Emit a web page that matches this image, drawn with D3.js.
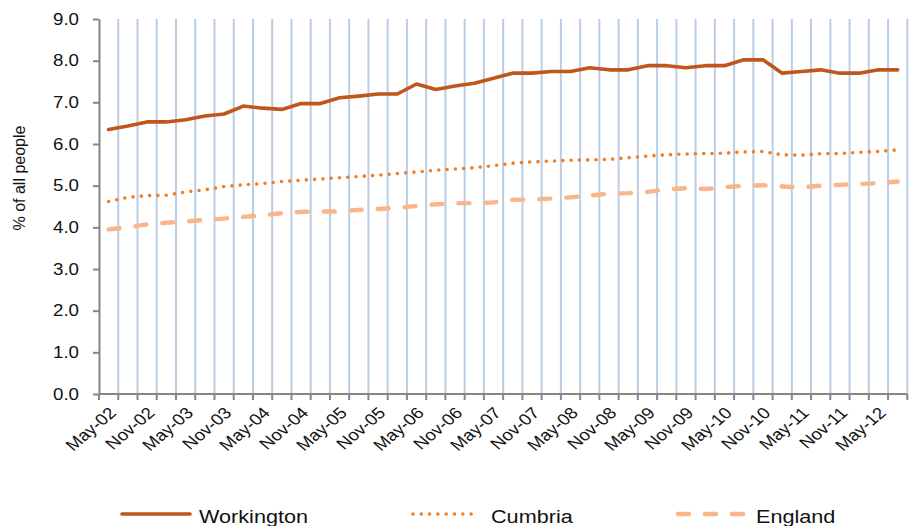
<!DOCTYPE html>
<html>
<head>
<meta charset="utf-8">
<script src="https://cdn.jsdelivr.net/npm/d3@7"></script>
<style>
  body { margin: 0; background: #fff; }
  text { font-family: "Liberation Sans", Arial, sans-serif; fill: #111; }
</style>
</head>
<body>
<div id="chart"></div>
<script>
(function() {
  var quarters = ["May-02","Aug-02","Nov-02","Feb-03","May-03","Aug-03","Nov-03","Feb-04",
    "May-04","Aug-04","Nov-04","Feb-05","May-05","Aug-05","Nov-05","Feb-06",
    "May-06","Aug-06","Nov-06","Feb-07","May-07","Aug-07","Nov-07","Feb-08",
    "May-08","Aug-08","Nov-08","Feb-09","May-09","Aug-09","Nov-09","Feb-10",
    "May-10","Aug-10","Nov-10","Feb-11","May-11","Aug-11","Nov-11","Feb-12",
    "May-12","Aug-12"];

  var workington = [6.35,6.43,6.53,6.53,6.58,6.67,6.72,6.91,6.86,6.83,6.97,6.97,
    7.11,7.15,7.20,7.20,7.44,7.31,7.39,7.46,7.58,7.70,7.70,7.74,7.74,7.83,7.78,7.78,
    7.88,7.88,7.83,7.88,7.88,8.02,8.02,7.70,7.74,7.78,7.70,7.70,7.78,7.78];

  var cumbria = [4.62,4.72,4.76,4.77,4.85,4.90,4.98,5.02,5.05,5.10,5.13,5.16,
    5.19,5.22,5.25,5.29,5.33,5.37,5.40,5.43,5.48,5.54,5.57,5.59,5.61,5.62,5.63,5.67,
    5.71,5.74,5.76,5.77,5.78,5.81,5.82,5.74,5.73,5.77,5.77,5.80,5.82,5.86];

  var england = [3.95,4.00,4.07,4.11,4.14,4.18,4.21,4.25,4.29,4.34,4.37,4.38,
    4.38,4.42,4.44,4.47,4.51,4.55,4.58,4.58,4.60,4.66,4.67,4.69,4.72,4.76,4.81,4.82,
    4.85,4.91,4.94,4.92,4.96,5.00,5.01,4.98,4.96,5.00,5.02,5.04,5.06,5.10];

  var yTicks = [0,1,2,3,4,5,6,7,8,9];

  var width = 910, height = 526;
  var left = 99, right = 907.3, top = 19, bottom = 394;
  var sx = 1.17; // the original picture is stretched a bit sideways
  var gray = "#868686";

  var series = [
    {name: "Workington", values: workington, color: "#c0561d", width: 3.6, dash: null, cap: "round"},
    {name: "Cumbria", values: cumbria, color: "#f47d20", width: 3.6, dash: "0,8.3", cap: "round"},
    {name: "England", values: england, color: "#fab58a", width: 4.4, dash: "11,16", cap: "round"}
  ];

  var svg = d3.select("#chart").append("svg")
    .attr("width", width).attr("height", height);

  var x = d3.scaleBand().domain(quarters).range([left, right]).padding(0);
  var y = d3.scaleLinear().domain([0, 9]).range([bottom, top]);

  // vertical gridlines at category boundaries
  var bounds = quarters.map(function(q) { return x(q); }).concat([right]);
  svg.append("g").selectAll("line").data(bounds.slice(1)).enter().append("line")
    .attr("x1", function(d) { return d; }).attr("x2", function(d) { return d; })
    .attr("y1", top).attr("y2", bottom)
    .attr("stroke", "#b9cde5").attr("stroke-width", 2);

  // y axis
  var yAxis = svg.append("g").attr("transform", "translate(" + left + ",0)")
    .call(d3.axisLeft(y).tickValues(yTicks).tickSize(6).tickSizeOuter(0)
      .tickFormat(d3.format(".1f")));
  yAxis.select(".domain").attr("stroke", gray).attr("stroke-width", 2);
  yAxis.selectAll(".tick line").attr("stroke", gray).attr("stroke-width", 2);
  yAxis.selectAll(".tick text")
    .attr("x", -20 / sx).attr("transform", "scale(" + sx + ",1)")
    .style("font-size", "16px").attr("fill", "#111");

  // x axis: ticks at boundaries
  svg.append("line").attr("x1", left).attr("x2", right).attr("y1", bottom).attr("y2", bottom)
    .attr("stroke", gray).attr("stroke-width", 2);
  svg.append("g").selectAll("line").data(bounds).enter().append("line")
    .attr("x1", function(d) { return d; }).attr("x2", function(d) { return d; })
    .attr("y1", bottom).attr("y2", bottom + 6)
    .attr("stroke", gray).attr("stroke-width", 2);

  var labelled = quarters.filter(function(q, i) { return i % 2 === 0; });
  svg.append("g").selectAll("text").data(labelled).enter().append("text")
    .attr("transform", function(d) {
      return "translate(" + (x(d) + x.bandwidth() / 2 + 4) + "," + (bottom + 16) + ") scale(" + sx + ",1) rotate(-45)";
    })
    .attr("text-anchor", "end").attr("dy", "0.35em")
    .style("font-size", "16px")
    .text(function(d) { return d; });

  // y axis title
  svg.append("text")
    .attr("transform", "translate(25,178) rotate(-90)")
    .attr("text-anchor", "middle")
    .style("font-size", "16px")
    .text("% of all people");

  // lines
  var line = d3.line()
    .x(function(d, i) { return x(quarters[i]) + x.bandwidth() / 2; })
    .y(function(d) { return y(d); });

  series.slice().reverse().forEach(function(s) {
    svg.append("path").datum(s.values)
      .attr("d", line)
      .attr("fill", "none")
      .attr("stroke", s.color)
      .attr("stroke-width", s.width)
      .attr("stroke-linecap", s.cap)
      .attr("stroke-linejoin", "round")
      .attr("stroke-dasharray", s.dash);
  });

  // legend
  var legendX = [122, 413, 678];
  var legend = svg.append("g").selectAll("g").data(series).enter().append("g")
    .attr("transform", function(d, i) { return "translate(" + legendX[i] + ",514)"; });
  legend.append("line")
    .attr("x1", 0).attr("x2", function(d, i) { return i === 2 ? 69 : (i === 1 ? 62 : 68); })
    .attr("y1", 0).attr("y2", 0)
    .attr("stroke", function(d) { return d.color; })
    .attr("stroke-width", function(d) { return d.width; })
    .attr("stroke-linecap", function(d) { return d.cap; })
    .attr("stroke-dasharray", function(d) { return d.dash; });
  legend.append("text")
    .attr("transform", function(d, i) { return "translate(" + [77, 78, 78][i] + ",9) scale(" + sx + ",1)"; })
    .style("font-size", "18.5px")
    .text(function(d) { return d.name; });
})();
</script>
</body>
</html>
